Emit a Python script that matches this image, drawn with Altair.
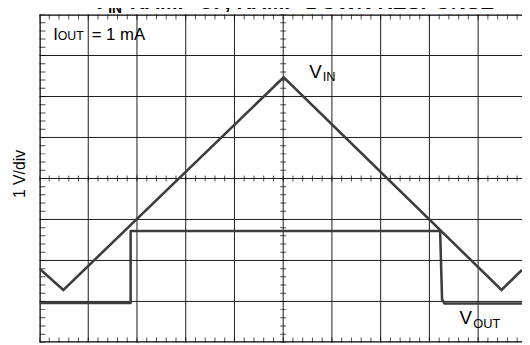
import altair as alt
import pandas as pd

# ---- data (scope divisions: x = time/div, y = 1 V/div) ----
vin_x = [0.0, 0.49, 5.01, 9.48, 9.9]
vin_y = [1.80, 1.28, 6.47, 1.28, 1.77]

vout_x = [0.0, 1.87, 1.87, 8.22, 8.26, 8.31, 9.9]
vout_y = [0.96, 0.96, 2.72, 2.72, 1.05, 0.95, 0.95]

major_x = [1, 2, 3, 4, 5, 6, 7, 8, 9]
major_y = [1, 2, 3, 4, 5, 6, 7]
minor_x = [i / 5 for i in range(0, 51)]
minor_y = [i / 5 for i in range(0, 41)]

label_text = ["I", "OUT", "= 1 mA", "V", "IN", "V", "OUT"]
label_x = [0.28, 0.375, 1.07, 5.535, 5.81, 8.62, 8.90]
label_y = [7.39, 7.37, 7.39, 6.45, 6.37, 0.44, 0.35]
label_fs = [17, 12.5, 17, 19, 13, 19, 13]

title_text = ["V", "IN", "RAMP-UP, RAMP-DOWN RESPONSE"]
title_x = [1.09, 1.41, 1.85]
title_y = [8.125, 8.03, 8.125]
title_fs = [21, 14, 21.3]

y_title = ["1 V/div"]
y_title_x = [-0.30]
y_title_y = [4.11]

# ---- frames ----
vin = pd.DataFrame({"x": vin_x, "y": vin_y, "i": range(len(vin_x))})
vout = pd.DataFrame({"x": vout_x, "y": vout_y, "i": range(len(vout_x))})
labels = pd.DataFrame({"t": label_text, "x": label_x, "y": label_y, "fs": label_fs})
titles = pd.DataFrame({"t": title_text, "x": title_x, "y": title_y, "fs": title_fs})
ytitle = pd.DataFrame({"t": y_title, "x": y_title_x, "y": y_title_y})

xs = alt.Scale(domain=[0, 9.9], nice=False, zero=False)
ys = alt.Scale(domain=[0, 8], nice=False, zero=False)
X = lambda f="x": alt.X(f + ":Q", scale=xs, axis=None)
Y = lambda f="y": alt.Y(f + ":Q", scale=ys, axis=None)

GRID = "#1a1a1a"

vgrid = alt.Chart(pd.DataFrame({"x": major_x})).mark_rule(
    color=GRID, strokeWidth=1, clip=True).encode(x=X())
hgrid = alt.Chart(pd.DataFrame({"y": major_y})).mark_rule(
    color=GRID, strokeWidth=1, clip=True).encode(y=Y())

border_v = alt.Chart(pd.DataFrame({"x": [0, 10]})).mark_rule(
    color="black", strokeWidth=2.5, clip=True).encode(x=X())
border_h = alt.Chart(pd.DataFrame({"y": [0, 8]})).mark_rule(
    color="black", strokeWidth=2.5, clip=True).encode(y=Y())

# minor ticks
top_ticks = alt.Chart(pd.DataFrame({"x": minor_x, "y": 8})).mark_tick(
    orient="vertical", size=10, thickness=1, color="black", clip=True).encode(x=X(), y=Y())
bot_ticks = alt.Chart(pd.DataFrame({"x": minor_x, "y": 0})).mark_tick(
    orient="vertical", size=10, thickness=1, color="black", clip=True).encode(x=X(), y=Y())
mid_h_ticks = alt.Chart(pd.DataFrame({"x": minor_x, "y": 4})).mark_tick(
    orient="vertical", size=6, thickness=1, color="black", clip=True).encode(x=X(), y=Y())
left_ticks = alt.Chart(pd.DataFrame({"y": minor_y, "x": 0})).mark_tick(
    orient="horizontal", size=12, thickness=1, color="black", clip=True).encode(x=X(), y=Y())
mid_v_ticks = alt.Chart(pd.DataFrame({"y": minor_y, "x": 5})).mark_tick(
    orient="horizontal", size=6, thickness=1, color="black", clip=True).encode(x=X(), y=Y())

TRACE = "#3d3d3d"
vin_line = alt.Chart(vin).mark_line(color=TRACE, strokeWidth=2.6, clip=True).encode(
    x=X(), y=Y(), order="i:Q")
vout_line = alt.Chart(vout).mark_line(color=TRACE, strokeWidth=2.6, clip=True,
                                      strokeJoin="round").encode(
    x=X(), y=Y(), order="i:Q")

label_layer = alt.Chart(labels).mark_text(
    align="left", baseline="alphabetic", font="Liberation Sans", color="black").encode(
    x=X(), y=Y(), text="t:N", size=alt.Size("fs:Q", scale=None, legend=None))

title_layer = alt.Chart(titles).mark_text(
    align="left", baseline="alphabetic", font="Liberation Sans", fontWeight="bold",
    color="black").encode(
    x=X(), y=Y(), text="t:N", size=alt.Size("fs:Q", scale=None, legend=None))

ytitle_layer = alt.Chart(ytitle).mark_text(
    align="center", baseline="alphabetic", font="Liberation Sans", fontSize=16,
    angle=270, color="black").encode(x=X(), y=Y(), text="t:N")

chart = alt.layer(
    vgrid, hgrid, border_v, border_h,
    top_ticks, bot_ticks, mid_h_ticks, left_ticks, mid_v_ticks,
    vin_line, vout_line, label_layer, title_layer, ytitle_layer,
).properties(
    width=490, height=333,
    autosize=alt.AutoSizeParams(type="none"),
    padding={"left": 32, "top": 4, "right": 0, "bottom": 0},
).configure_view(stroke="transparent")

chart.save("out.html", embed_options={"renderer": "svg", "actions": False})
